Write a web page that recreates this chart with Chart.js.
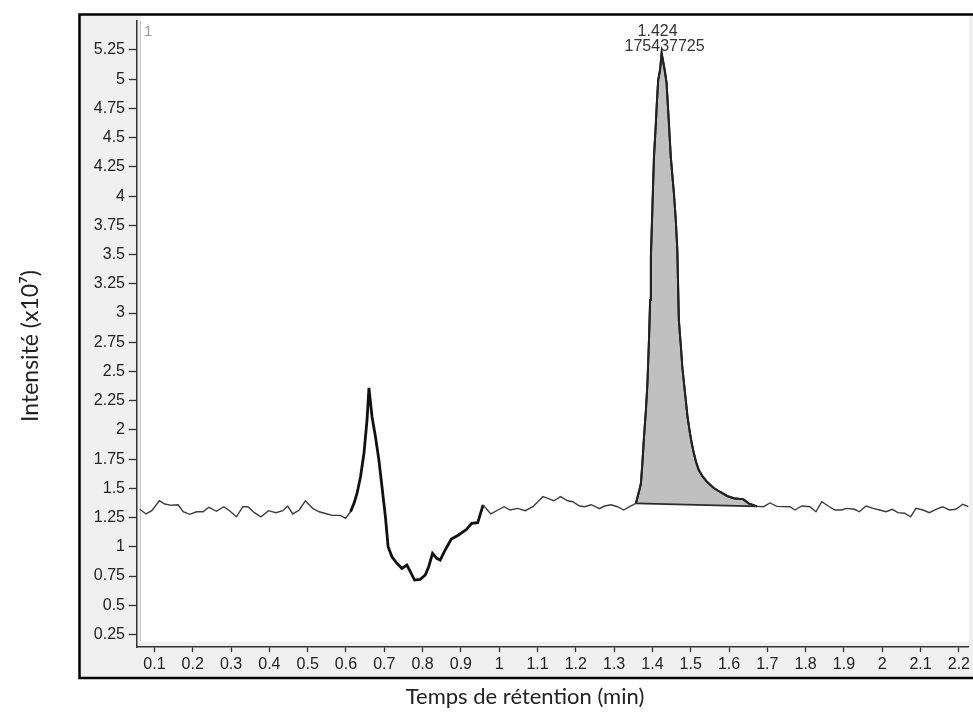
<!DOCTYPE html>
<html>
<head>
<meta charset="utf-8">
<script src="https://cdn.jsdelivr.net/npm/chart.js@4/dist/chart.umd.min.js"></script>
<style>
  html, body { margin: 0; padding: 0; background: #fff; }
</style>
</head>
<body>
<canvas id="myChart" width="973" height="717"></canvas>
<script>
// Retention time (min) of each sample of the trace
const retTime = [
  0.062, 0.078, 0.093, 0.113, 0.127, 0.145, 0.162, 0.175, 0.192, 0.210,
  0.227, 0.242, 0.262, 0.281, 0.296, 0.314, 0.331, 0.344, 0.361, 0.378,
  0.398, 0.417, 0.435, 0.448, 0.461, 0.478, 0.494, 0.513, 0.530, 0.551,
  0.564, 0.586, 0.599,
  0.612, 0.621, 0.629, 0.638, 0.647, 0.655, 0.660, 0.668, 0.677, 0.686,
  0.694, 0.703, 0.710, 0.720, 0.733, 0.746, 0.759, 0.768, 0.779, 0.794,
  0.807, 0.816, 0.826, 0.837, 0.846, 0.859, 0.875, 0.894, 0.915, 0.928,
  0.944, 0.958,
  0.978, 0.997, 1.013, 1.028, 1.049, 1.068, 1.088, 1.101, 1.114, 1.127,
  1.143, 1.160, 1.179, 1.192, 1.210, 1.223, 1.240, 1.262, 1.275, 1.292,
  1.309, 1.325, 1.340,
  1.357, 1.366, 1.370, 1.374, 1.378, 1.383, 1.387, 1.391, 1.394, 1.396,
  1.400, 1.404, 1.409, 1.411, 1.415, 1.420, 1.424, 1.432, 1.437, 1.443,
  1.448, 1.452, 1.456, 1.461, 1.465, 1.469, 1.474, 1.478, 1.487, 1.492,
  1.498, 1.503, 1.508, 1.514, 1.521, 1.530, 1.543, 1.560, 1.577, 1.595,
  1.612, 1.638, 1.651, 1.673,
  1.690, 1.707, 1.725, 1.759, 1.772, 1.790, 1.811, 1.827, 1.842, 1.859,
  1.876, 1.894, 1.907, 1.928, 1.940, 1.958, 1.976, 1.993, 2.010, 2.026,
  2.041, 2.058, 2.074, 2.088, 2.106, 2.123, 2.140, 2.158, 2.175, 2.192,
  2.210, 2.225
];

// Intensity (x10^7) at each retention time
const intensity = [
  1.321, 1.281, 1.309, 1.394, 1.366, 1.355, 1.360, 1.300, 1.278, 1.300,
  1.300, 1.338, 1.304, 1.343, 1.309, 1.257, 1.343, 1.343, 1.292, 1.257,
  1.309, 1.292, 1.309, 1.349, 1.281, 1.315, 1.394, 1.329, 1.300, 1.281,
  1.269, 1.269, 1.244,
  1.300, 1.372, 1.458, 1.600, 1.800, 2.085, 2.360, 2.113, 1.942, 1.742,
  1.514, 1.257, 1.001, 0.915, 0.859, 0.816, 0.844, 0.787, 0.716, 0.722,
  0.759, 0.830, 0.944, 0.902, 0.887, 0.973, 1.067, 1.101, 1.150, 1.201,
  1.206, 1.358,
  1.281, 1.315, 1.343, 1.315, 1.329, 1.309, 1.343, 1.386, 1.429, 1.415,
  1.394, 1.429, 1.394, 1.386, 1.349, 1.343, 1.360, 1.326, 1.349, 1.360,
  1.343, 1.315, 1.343,
  1.372, 1.486, 1.543, 1.725, 1.939, 2.170, 2.401, 2.769, 3.111, 3.479,
  3.907, 4.334, 4.625, 4.762, 4.993, 5.079, 5.224, 5.079, 4.967, 4.625,
  4.334, 4.180, 4.027, 3.796, 3.539, 2.940, 2.726, 2.538, 2.256, 2.102,
  1.973, 1.879, 1.802, 1.725, 1.657, 1.606, 1.554, 1.503, 1.469, 1.435,
  1.415, 1.406, 1.372, 1.346,
  1.343, 1.375, 1.346, 1.343, 1.315, 1.349, 1.343, 1.300, 1.386, 1.349,
  1.315, 1.315, 1.329, 1.321, 1.300, 1.349, 1.329, 1.315, 1.300, 1.321,
  1.292, 1.287, 1.257, 1.329, 1.315, 1.292, 1.321, 1.343, 1.315, 1.321,
  1.364, 1.343
];

const xTicks = [0.1, 0.2, 0.3, 0.4, 0.5, 0.6, 0.7, 0.8, 0.9, 1, 1.1, 1.2, 1.3, 1.4, 1.5, 1.6, 1.7, 1.8, 1.9, 2, 2.1, 2.2];
const yTicks = [0.25, 0.5, 0.75, 1, 1.25, 1.5, 1.75, 2, 2.25, 2.5, 2.75, 3, 3.25, 3.5, 3.75, 4, 4.25, 4.5, 4.75, 5, 5.25];

// integrated peak
const peakTime = 1.424;
const peakArea = '175437725';
const peakStart = 1.357;
const peakEnd = 1.673;

const tracePts = retTime.map((t, i) => ({ x: t, y: intensity[i] }));
const peakPts = tracePts.filter(p => p.x >= peakStart && p.x <= peakEnd);
const baselinePts = [peakPts[0], peakPts[peakPts.length - 1]];

const inRange = (c, a, b) => c.p0.parsed.x >= a && c.p1.parsed.x <= b;

const panelPlugin = {
  id: 'panel',
  beforeDraw(chart) {
    const { ctx, chartArea: a } = chart;
    ctx.save();
    ctx.fillStyle = '#fff';
    ctx.fillRect(0, 0, chart.width, chart.height);
    ctx.fillStyle = '#f0f0f0';
    ctx.fillRect(79, 14, chart.width - 79, 664);
    ctx.fillStyle = '#fff';
    ctx.fillRect(a.left + 4, 16, a.right - a.left - 4, a.bottom - 21);
    ctx.strokeStyle = '#c4c4c4';
    ctx.lineWidth = 1;
    ctx.beginPath();
    ctx.moveTo(a.left + 3.5, a.top);
    ctx.lineTo(a.left + 3.5, a.bottom - 6);
    ctx.stroke();
    ctx.strokeStyle = '#000';
    ctx.lineWidth = 2.5;
    ctx.strokeRect(79.5, 14.5, chart.width + 20, 663.5);
    ctx.restore();
  },
  afterDraw(chart) {
    const { ctx, chartArea: a, scales } = chart;
    ctx.save();
    // trace number
    ctx.fillStyle = '#9a9a9a';
    ctx.font = '15px "Liberation Sans", Arial, sans-serif';
    ctx.textAlign = 'left';
    ctx.textBaseline = 'middle';
    ctx.fillText('1', a.left + 7, a.top + 11);
    // peak label
    const px = scales.x.getPixelForValue(peakTime);
    ctx.fillStyle = '#333';
    ctx.font = '16px "Liberation Sans", Arial, sans-serif';
    ctx.textAlign = 'center';
    ctx.fillText(peakTime.toFixed(3), px - 4, a.top + 11);
    ctx.fillText(peakArea, px + 3, a.top + 26);
    // axis titles
    ctx.fillStyle = '#222';
    ctx.font = '22px Lato, "Open Sans", sans-serif';
    ctx.fillText('Temps de rétention (min)', 525, 697);
    ctx.font = '23px Lato, "Open Sans", sans-serif';
    ctx.translate(31, 346);
    ctx.rotate(-Math.PI / 2);
    ctx.fillText('Intensité (x10⁷)', 0, 0);
    ctx.restore();
  }
};

const tickFont = { family: '"Liberation Sans", Arial, sans-serif', size: 16 };

new Chart(document.getElementById('myChart').getContext('2d'), {
  type: 'line',
  data: {
    datasets: [
      {
        label: 'baseline',
        data: baselinePts,
        borderColor: '#2a2a2a',
        borderWidth: 1.6,
        pointRadius: 0,
        fill: false
      },
      {
        label: 'trace',
        data: tracePts,
        borderColor: '#3c3c3c',
        borderWidth: 1.4,
        pointRadius: 0,
        fill: false,
        segment: {
          borderWidth: c => inRange(c, 0.612, 0.958) ? 2.8 : (inRange(c, peakStart, peakEnd) ? 2 : 1.4),
          borderColor: c => inRange(c, 0.612, 0.958) ? '#111' : (inRange(c, peakStart, peakEnd) ? '#222' : '#3c3c3c')
        }
      },
      {
        label: 'peak',
        data: peakPts,
        borderColor: '#222',
        borderWidth: 2,
        backgroundColor: '#c0c0c0',
        pointRadius: 0,
        fill: 0
      }
    ]
  },
  options: {
    responsive: false,
    animation: false,
    events: [],
    layout: { padding: { top: 21, left: 0, right: 0, bottom: 0 } },
    plugins: { legend: { display: false }, tooltip: { enabled: false } },
    scales: {
      x: {
        type: 'linear',
        min: 0.0545,
        max: 2.226,
        afterBuildTicks: s => { s.ticks = xTicks.map(v => ({ value: v })); },
        afterFit: s => { s.height = 70; },
        ticks: { autoSkip: false, maxRotation: 0, color: '#222', font: tickFont, padding: 3, callback: v => String(v) },
        grid: { drawOnChartArea: false, drawTicks: true, tickLength: 5, color: '#333', tickWidth: 1.3 },
        border: { display: true, color: '#333', width: 1.5 }
      },
      y: {
        type: 'linear',
        min: 0.143,
        max: 5.498,
        afterBuildTicks: s => { s.ticks = yTicks.map(v => ({ value: v })); },
        afterFit: s => { s.width = 137; },
        ticks: { autoSkip: false, color: '#222', font: tickFont, padding: 4, callback: v => String(v) },
        grid: { drawOnChartArea: false, drawTicks: true, tickLength: 8, color: '#333', tickWidth: 1.3 },
        border: { display: true, color: '#333', width: 1.5 }
      }
    }
  },
  plugins: [panelPlugin]
});
</script>
</body>
</html>
